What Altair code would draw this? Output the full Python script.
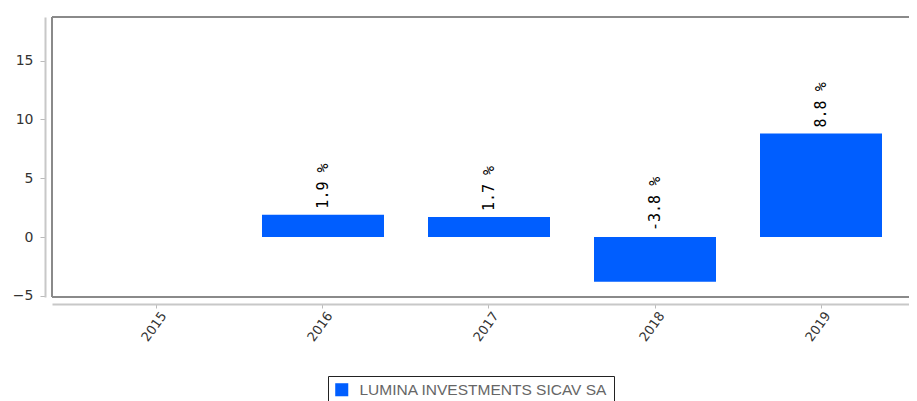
import altair as alt
import pandas as pd

years = ["2015", "2016", "2017", "2018", "2019"]
values = [None, 1.9, 1.7, -3.8, 8.8]
series_name = "LUMINA INVESTMENTS SICAV SA"
y_ticks = [-5, 0, 5, 10, 15]

rows = []
for yr, v in zip(years, values):
    if v is None:
        continue
    rows.append({"year": yr, "value": v, "label": f"{v:.1f} %",
                 "ly": max(v, 0.0), "series": series_name})
df = pd.DataFrame(rows)

BLUE = "#005EFF"
PW = 857
RANGE_W = 874
PH = 280

xscale = alt.Scale(domain=years, range=[0, RANGE_W], paddingInner=0.265, paddingOuter=0.265)
yscale = alt.Scale(domain=[-5.1, 18.7], nice=False, zero=False)

x_enc = alt.X("year:N", scale=xscale, sort=years,
              axis=alt.Axis(title=None, labelAngle=306, labelAlign="right", labelBaseline="middle",
                            offset=7, domainColor="#c8c8c8", domainWidth=2, tickColor="#bbbbbb",
                            tickSize=4, labelPadding=5, labelOffset=7, labelFont="DejaVu Sans",
                            labelFontSize=13, labelColor="#333333"))
y_enc = alt.Y("value:Q", scale=yscale,
              axis=alt.Axis(title=None, values=y_ticks, offset=7, domainColor="#c8c8c8",
                            domainWidth=2, tickColor="#bbbbbb", tickSize=5, labelPadding=7,
                            labelFont="DejaVu Sans", labelFontSize=14, labelColor="#333333",
                            grid=False))

bars = alt.Chart(df).mark_bar(size=122).encode(
    x=x_enc,
    y=y_enc,
    y2=alt.datum(0),
    color=alt.Color("series:N", scale=alt.Scale(range=[BLUE]),
                    legend=alt.Legend(title=None, orient="none", legendX=276, legendY=359,
                                      strokeColor="#222222", padding=6, fillColor="white",
                                      symbolType="square", symbolSize=170, symbolStrokeWidth=0,
                                      labelFont="Liberation Sans", labelFontSize=15.5,
                                      labelLimit=0, labelColor="#666666", labelOffset=10)),
)

labels = alt.Chart(df).mark_text(angle=270, align="left", baseline="middle", dx=6,
                                 font="DejaVu Sans Mono", fontSize=15, color="black").encode(
    x=alt.X("year:N", scale=xscale, sort=years),
    y=alt.Y("ly:Q", scale=yscale),
    text="label:N",
)

frame_df = pd.DataFrame({"a": [0]})
FR = "#8a8a8a"
top = alt.Chart(frame_df).mark_rule(color=FR, strokeWidth=2).encode(
    x=alt.value(0), x2=alt.value(RANGE_W), y=alt.value(0))
bottom = alt.Chart(frame_df).mark_rule(color=FR, strokeWidth=2).encode(
    x=alt.value(0), x2=alt.value(RANGE_W), y=alt.value(PH))
left = alt.Chart(frame_df).mark_rule(color=FR, strokeWidth=2).encode(
    x=alt.value(0), y=alt.value(0), y2=alt.value(PH))

chart = alt.layer(bars, labels, top, bottom, left).properties(
    width=PW, height=PH,
    autosize=alt.AutoSizeParams(type="none"),
    padding={"left": 44, "top": 9, "right": 0, "bottom": 104},
).configure_view(stroke=None)

chart.save("out.html", embed_options={"renderer": "svg", "actions": False})
